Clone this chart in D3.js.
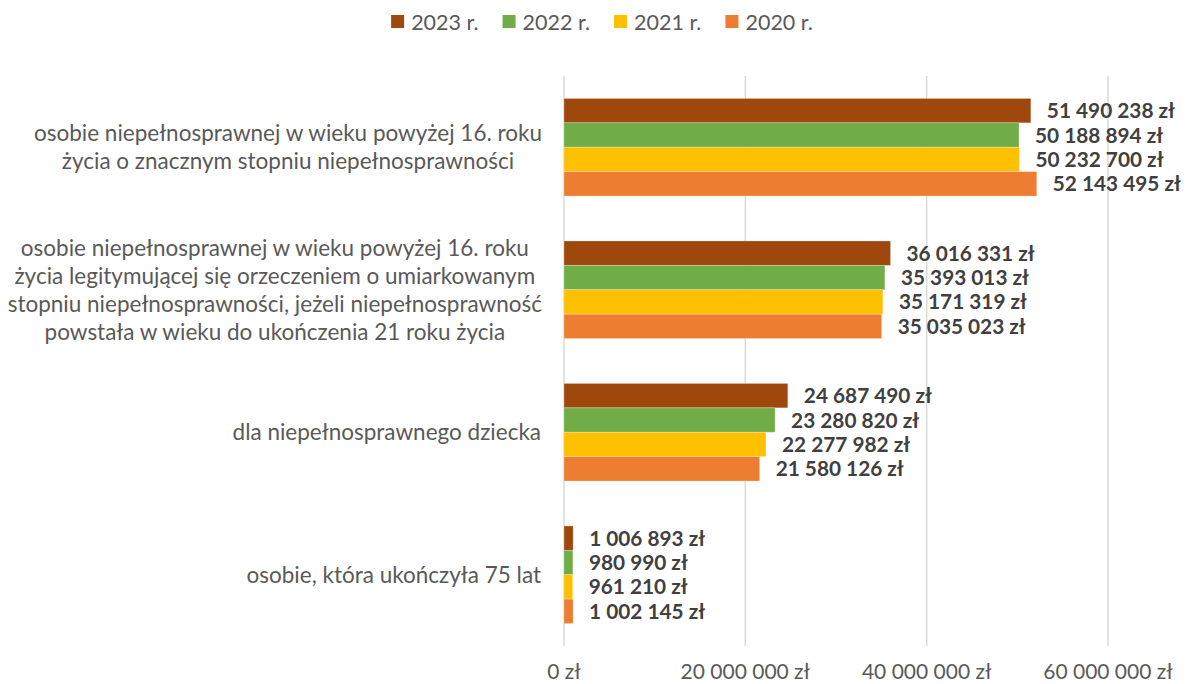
<!DOCTYPE html>
<html>
<head>
<meta charset="utf-8">
<script src="https://cdn.jsdelivr.net/npm/d3@7"></script>
<style>
  html, body { margin: 0; padding: 0; background: #fff; }
  svg { display: block; font-family: Lato, "Open Sans", sans-serif; }
</style>
</head>
<body>
<svg id="chart" width="1186" height="684"></svg>
<script>
// Category labels, already broken into display lines
const categories = [
  ["osobie niepełnosprawnej w wieku powyżej 16. roku", "życia o znacznym stopniu niepełnosprawności"],
  ["osobie niepełnosprawnej w wieku powyżej 16. roku", "życia legitymującej się orzeczeniem o umiarkowanym", "stopniu niepełnosprawności, jeżeli niepełnosprawność", "powstała w wieku do ukończenia 21 roku życia"],
  ["dla niepełnosprawnego dziecka"],
  ["osobie, która ukończyła 75 lat"]
];
const seriesNames = ["2023 r.", "2022 r.", "2021 r.", "2020 r."];
const values2023 = [51490238, 36016331, 24687490, 1006893];
const values2022 = [50188894, 35393013, 23280820, 980990];
const values2021 = [50232700, 35171319, 22277982, 961210];
const values2020 = [52143495, 35035023, 21580126, 1002145];
const seriesColors = ["#9E480E", "#70AD47", "#FFC000", "#ED7D31"];
const tickValues = [0, 20000000, 40000000, 60000000];

const series = [values2023, values2022, values2021, values2020];

const svg = d3.select("#chart");
const plotTop = 76, plotBottom = 646;
const x = d3.scaleLinear().domain([0, 60000000]).range([564, 1108]);
const y = d3.scaleBand().domain(d3.range(categories.length))
  .range([plotTop, plotBottom]).paddingInner(0.315).paddingOuter(0.1575);
const ySub = d3.scaleBand().domain(d3.range(series.length)).range([0, y.bandwidth()]);

const pl = d3.formatLocale({ decimal: ",", thousands: " ", grouping: [3], currency: ["", " zł"] });
const money = pl.format("$,.0f");

// vertical gridlines
svg.append("g").selectAll("line").data(tickValues).join("line")
  .attr("x1", d => x(d)).attr("x2", d => x(d))
  .attr("y1", plotTop).attr("y2", plotBottom)
  .attr("stroke", "#D9D9D9").attr("stroke-width", 1.5);

// x tick labels
svg.append("g").selectAll("text").data(tickValues).join("text")
  .attr("x", d => x(d)).attr("y", 679)
  .attr("text-anchor", "middle")
  .attr("font-size", 21).attr("fill", "#595959")
  .text(d => money(d));

// bars
const groups = svg.append("g").selectAll("g").data(categories).join("g")
  .attr("transform", (d, i) => `translate(0,${y(i)})`);

groups.each(function(_, ci) {
  const g = d3.select(this);
  series.forEach((vals, si) => {
    g.append("rect")
      .attr("x", x(0)).attr("y", ySub(si))
      .attr("width", x(vals[ci]) - x(0)).attr("height", ySub.bandwidth())
      .attr("fill", seriesColors[si])
      .attr("stroke", "#fff").attr("stroke-opacity", 0.35).attr("stroke-width", 0.75);
    g.append("text")
      .attr("x", x(vals[ci]) + 16)
      .attr("y", ySub(si) + ySub.bandwidth() / 2)
      .attr("dy", "0.36em")
      .attr("font-size", 20.8).attr("font-weight", 700).attr("fill", "#404040")
      .text(money(vals[ci]));
  });
});

// category labels
const lineH = 28;
const singleRight = 541, blockRight = 542;
categories.forEach((lines, ci) => {
  const cy = y(ci) + y.bandwidth() / 2;
  const t = svg.append("text")
    .attr("font-size", 22.5).attr("fill", "#595959");
  const spans = lines.map((ln, li) => t.append("tspan")
    .attr("y", cy + (li - (lines.length - 1) / 2) * lineH)
    .attr("dy", "0.35em").text(ln));
  if (lines.length === 1) {
    spans[0].attr("x", singleRight).attr("text-anchor", "end");
  } else {
    const w = d3.max(spans, s => s.node().getComputedTextLength());
    const cx = blockRight - w / 2;
    spans.forEach(s => s.attr("x", cx).attr("text-anchor", "middle"));
  }
});

// legend
const legend = svg.append("g");
let lx = 0;
seriesNames.forEach((name, i) => {
  const g = legend.append("g").attr("transform", `translate(${lx},0)`);
  g.append("rect").attr("x", 0).attr("y", -7).attr("width", 13).attr("height", 13).attr("fill", seriesColors[i]);
  const tx = g.append("text").attr("x", 20).attr("y", 0).attr("dy", "0.35em")
    .attr("font-size", 21.5).attr("fill", "#595959").text(name);
  lx += 20 + tx.node().getComputedTextLength() + 24;
});
const legendW = lx - 24;
legend.attr("transform", `translate(${(393 + 811) / 2 - legendW / 2},22)`);
</script>
</body>
</html>
